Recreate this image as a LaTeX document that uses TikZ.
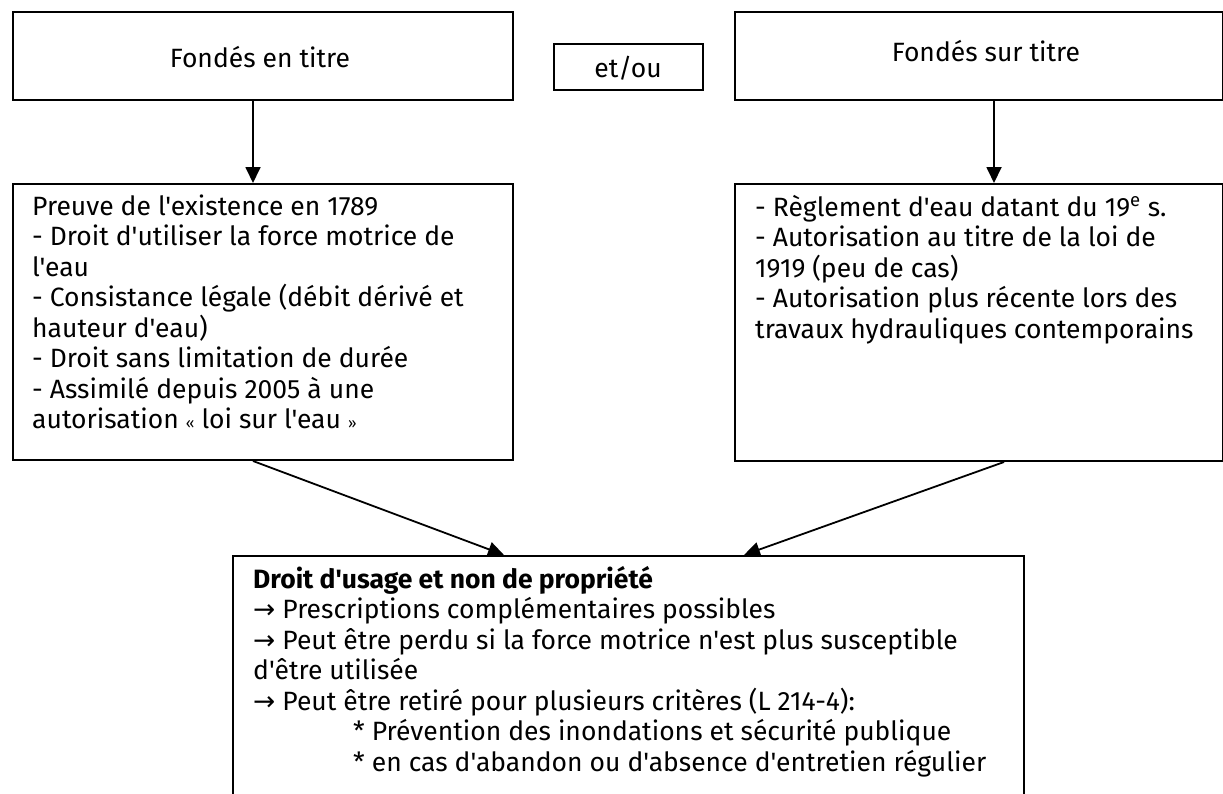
\documentclass[tikz,border=0pt]{standalone}
\usepackage{fontspec}
\setmainfont{Fira Sans}[Ligatures=TeXOff]
\newfontfamily\arrowfont{DejaVu Sans}
\usetikzlibrary{arrows.meta}
\newcommand{\ra}{{\arrowfont →}}
\newcommand{\gl}{{\fontsize{15}{15}\selectfont «}}
\newcommand{\gr}{{\fontsize{15}{15}\selectfont »}}
\newlength\wa
\newlength\wb
\newlength\la
\newlength\lb
\newcommand{\lineB}{\ra{} Prescriptions complémentaires possibles}
\newcommand{\lineC}{\ra{} Peut être perdu si la force motrice n'est plus susceptible}
\begin{document}
\settowidth\wa{\fontsize{10}{12}\selectfont travaux hydrauliques contemporains}
\settowidth\wb{\fontsize{10}{12}\selectfont Preuve de l'existence en 1789}
\pgfmathsetmacro\fs{10*(432/\wa + 351/\wb)/2}
\settowidth\la{\fontsize{\fs}{30.5}\selectfont\lineB}
\settowidth\lb{\fontsize{\fs}{30.5}\selectfont\lineC}
\pgfmathsetmacro\xs{(768+965-\la-\lb)/2}
\begin{tikzpicture}[x=1pt,y=-1pt,
  box/.style={draw=black, line width=2pt, rectangle, inner sep=0pt, anchor=north west},
  txt/.style={inner sep=0pt, font=\fontsize{\fs}{30.5}\selectfont, align=left, anchor=base west},
  ctxt/.style={inner sep=0pt, font=\fontsize{\fs}{30.5}\selectfont, anchor=base},
  arr/.style={line width=1.8pt, -{Triangle[length=16pt,width=15pt]}}]
\useasboundingbox (0,0) rectangle (1223,793);
\clip (0,0) rectangle (1223,793);
\node[box, minimum width=500pt, minimum height=88pt] (b1) at (12,11) {};
\node[box, minimum width=149pt, minimum height=46pt] (b0) at (553,43) {};
\node[box, minimum width=487.5pt, minimum height=88pt] (b3) at (734,11) {};
\node[box, minimum width=500pt, minimum height=276pt] (b2) at (12,183) {};
\node[box, minimum width=487.5pt, minimum height=277pt] (b4) at (734,183) {};
\node[box, minimum width=791pt, minimum height=300pt] (b5) at (232,555) {};
\node[ctxt] (t1) at (260,67) {Fondés en titre};
\node[ctxt] (t0) at (628,77) {et/ou};
\node[ctxt] (t3) at (986,61) {Fondés sur titre};
\node[txt] (t2) at (32,428.5) {Preuve de l'existence en 1789\\
- Droit d'utiliser la force motrice de\\
l'eau\\
- Consistance légale (débit dérivé et\\
hauteur d'eau)\\
- Droit sans limitation de durée\\
- Assimilé depuis 2005 à une\\
autorisation \gl{} loi sur l'eau \gr};
\node[txt] (t4) at (755,338) {- Règlement d'eau datant du 19\textsuperscript{e} s.\\
- Autorisation au titre de la loi de\\
1919 (peu de cas)\\
- Autorisation plus récente lors des\\
travaux hydrauliques contemporains};
\node[txt] (t5) at (\xs,771) {\textbf{Droit d'usage et non de propriété}\\
\lineB\\
\lineC\\
d'être utilisée\\
\ra{} Peut être retiré pour plusieurs critères (L 214-4):\\
\hspace*{100pt}* Prévention des inondations et sécurité publique\\
\hspace*{100pt}* en cas d'abandon ou d'absence d'entretien régulier};
\draw[arr] ([xshift=-10pt]b1.south) -- ([xshift=-10pt]b2.north);
\draw[arr] ([xshift=15.25pt]b3.south) -- ([xshift=15.25pt]b4.north);
\draw[arr] ([xshift=-10pt]b2.south) -- ([xshift=-124.5pt]b5.north);
\draw[arr] ([xshift=25.25pt]b4.south) -- ([xshift=115.5pt]b5.north);
\end{tikzpicture}
\end{document}
